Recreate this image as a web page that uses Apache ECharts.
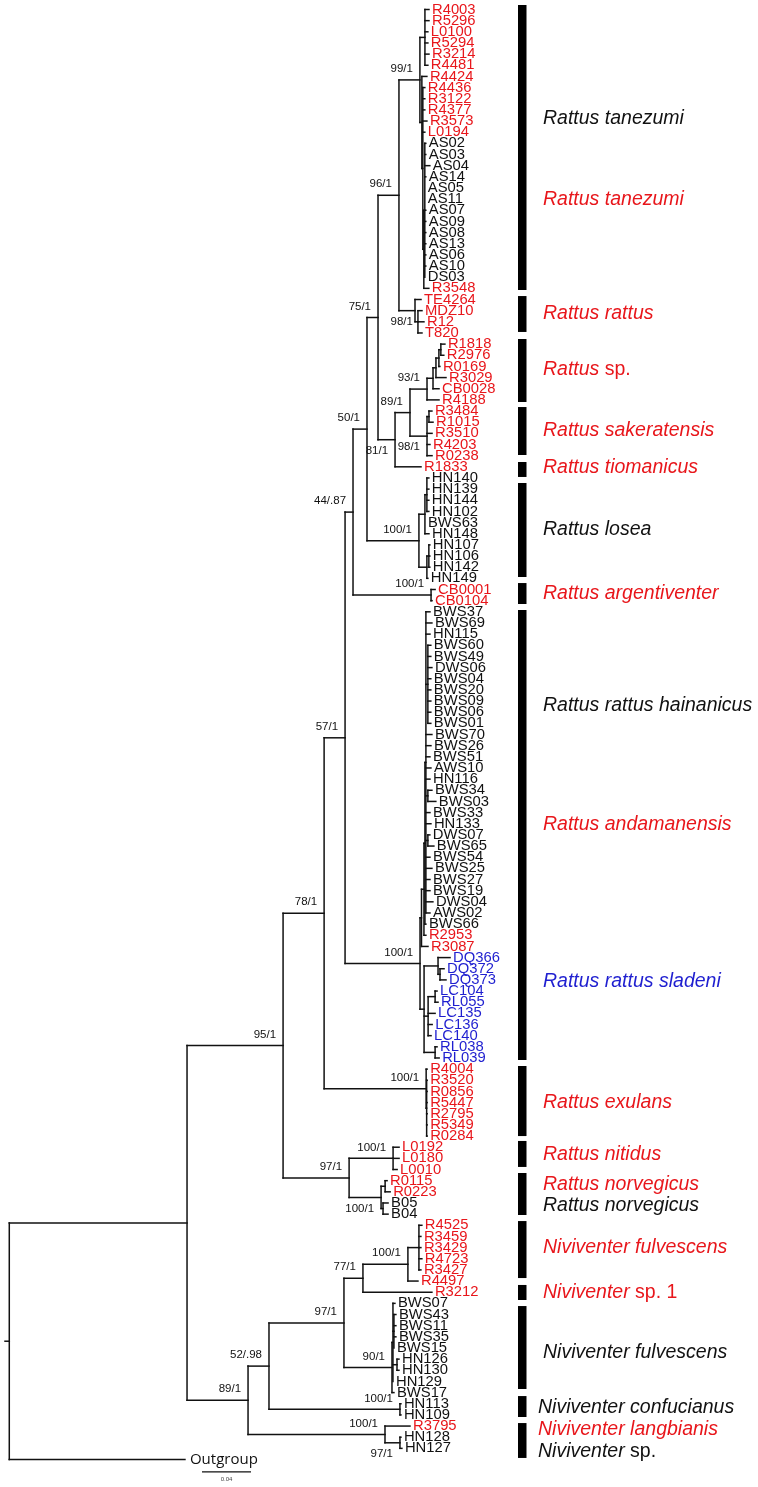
<!DOCTYPE html>
<html><head><meta charset="utf-8">
<script src="https://cdn.jsdelivr.net/npm/echarts@6/dist/echarts.min.js"></script>
<style>html,body{margin:0;padding:0;background:#fff}#chart{width:758px;height:1487px}</style>
</head><body><div id="chart"></div>
<script>
// ---------------- DATA ----------------
// Clades in Newick form, branch lengths in substitutions/site; internal labels = bootstrap/posterior
// (suffix ~b = label drawn below the branch, ~l = label drawn level with the node)
const tanezumiClade = "((R4003:0.0033,R5296:0.0033,L0100:0.0024,R5294:0.0024,R3214:0.0033,R4481:0.0024):0.0041,(R4424:0.0041,(R4436:0.0016,R3122:0.0016,R4377:0.0016,R3573:0.0033,L0194:0.0016,((AS02:0.0008,AS03:0.0008,AS04:0.0041,AS14:0.0008,AS05:0,AS11:0,AS07:0.0008,AS09:0.0008,AS08:0.0008,AS13:0.0008,AS06:0.0008,AS10:0.0008,DS03:0):0.0008,R3548:0.0041):0.0008):0.0008):0.0016)99/1";
const rattusClade = "(TE4264:0.0049,(MDZ10:0.0033,R12:0.0049,T820:0.0033)98/1~l:0.0024)";
const spClade = "(((((R1818:0.0033,R2976:0.0024):0.0016,R0169:0.0008):0.0024,R3029:0.0082):0.0024,CB0028:0.0049):0.0049,R4188:0.0098)93/1";
const sakeratensisClade = "((R3484:0.0024,R1015:0.0033):0.0016,R3510:0.0041,R4203:0.0024,R0238:0.0041)98/1~b";
const loseaClade = "(((HN140:0.0016,HN139:0.0016,HN144:0.0016,HN102:0.0016):0.0016,BWS63:0,HN148:0.0033):0.0049,((HN107:0.0008,HN106:0.0008,HN142:0.0008):0.0016,HN149:0.0008):0.0065)100/1";
const argentiventerClade = "(CB0001:0.0033,CB0104:0.0008)100/1";
const hainanicusClade = "((BWS37:0.0033,BWS69:0.0049,HN115:0.0033,(BWS60:0.0024,BWS49:0.0024,DWS06:0.0033,BWS04:0.0024,BWS20:0.0024,BWS09:0.0024,BWS06:0.0024,BWS01:0.0024):0.0016,BWS70:0.0049,BWS26:0.0041,BWS51:0.0033,AWS10:0.0041,HN116:0.0033,(BWS34:0.0033,BWS03:0.0065):0.0016,BWS33:0.0033,HN133:0.0041,(DWS07:0.0016,BWS65:0.0049):0.0016,BWS54:0.0033,BWS25:0.0049,BWS27:0.0033,BWS19:0.0033,DWS04:0.0057,AWS02:0.0033):0.0008,BWS66:0.0008)";
const andamanensisExtra = ["R2953:0.0016", "R3087:0.0053"];
const sladeniClade = "((DQ366:0.0098,(DQ372:0.0033,DQ373:0.0049):0.0016):0.0114,((LC104:0.0016,RL055:0.0024):0.0057,LC135:0.0057,LC136:0.0033,LC140:0.0024):0.0033,(RL038:0.0016,RL039:0.0033):0.0090)";
const exulansClade = "(R4004:0.0008,(R3520:0.0004,R0856:0.0004,R5447:0.0004,R2795:0.0004,R5349:0.0004,R0284:0.0004):0.0004)100/1";
const nitidusClade = "(L0192:0.0049,L0180:0.0049,L0010:0.0033)100/1";
const norvegicusClade = "((R0115:0.0016,R0223:0.0041):0.0033,(B05:0.0041,B04:0.0041):0.0016)100/1~b";
const nivRedClade = "(((R4525:0.0024,R3459:0.0016,R3429:0.0016,R4723:0.0024,R3427:0.0016):0.0090,R4497:0.0082)100/1:0.0367,R3212:0.0563)77/1";
const nivBlackClade = "((BWS07:0.0016,(BWS43:0.0016,BWS11:0.0016,BWS35:0.0016,BWS15:0):0.0008,(HN126:0.0016,HN130:0.0016):0.0033,HN129:0):0.0008,BWS17:0.0016)90/1";
const confucianusClade = "(HN113:0.0008,HN109:0.0008)100/1";
const langbianisClade = "(R3795:0.0204,(HN128:0.0008,HN127:0.0016)97/1~b:0.0122)100/1";

const redLeaves = ["R4003","R5296","L0100","R5294","R3214","R4481","R4424","R4436","R3122","R4377","R3573","L0194","R3548","TE4264","MDZ10","R12","T820","R1818","R2976","R0169","R3029","CB0028","R4188","R3484","R1015","R3510","R4203","R0238","R1833","CB0001","CB0104","R2953","R3087","R4004","R3520","R0856","R5447","R2795","R5349","R0284","L0192","L0180","L0010","R0115","R0223","R4525","R3459","R3429","R4723","R3427","R4497","R3212","R3795"];
const blueLeaves = ["DQ366","DQ372","DQ373","LC104","RL055","LC135","LC136","LC140","RL038","RL039"];

// clade bars (leaf-row extents) and clade names
const barStartRow = [-0.40, 25.69, 29.54, 35.64, 40.57, 42.45, 51.42, 53.84, 94.72, 101.44, 104.31, 108.62, 114.35, 116.24, 124.31, 126.73];
const barEndRow   = [25.15, 28.91, 35.19, 39.94, 41.91, 50.88, 53.30, 94.18, 101.0, 103.77, 108.08, 113.73, 115.70, 123.68, 126.19, 129.86];
const cladeNames  = ["Rattus tanezumi","Rattus tanezumi","Rattus rattus","Rattus","Rattus sakeratensis","Rattus tiomanicus","Rattus losea","Rattus argentiventer","Rattus rattus hainanicus","Rattus andamanensis","Rattus rattus sladeni","Rattus exulans","Rattus nitidus","Rattus norvegicus","Rattus norvegicus","Niviventer fulvescens","Niviventer","Niviventer fulvescens","Niviventer confucianus","Niviventer langbianis","Niviventer"];
const cladeSuffix = ["","","","sp.","","","","","","","","","","","","","sp. 1","","","","sp."];
const cladeColor  = ["k","r","r","r","r","r","k","r","k","r","b","r","r","r","k","r","r","k","k","r","k"];
const cladeRow    = [9.82,17.08,27.30,32.32,37.79,41.11,46.67,52.40,62.44,73.11,87.19,98.04,102.70,105.39,107.27,111.04,115.07,120.45,125.38,127.35,129.33];
const cladeIndent = [0,0,0,0,0,0,0,0,0,0,0,0,0,0,0,0,0,0,1,1,1];

const scaleBarLength = 0.04;
const scaleBarLabel = "0.04";

// ---------------- BUILD TREE ----------------
const andamanensisClade = "((" + hainanicusClade + ":0.0008," + andamanensisExtra[0] + "):0.0020," + andamanensisExtra[1] + ")";
const n96 = "(" + tanezumiClade + ":0.0171," + rattusClade + ":0.0131)96/1";
const n81 = "((" + spClade + ":0.0139," + sakeratensisClade + ":0.0139)89/1:0.0122,R1833:0.0212)81/1~b";
const n75 = "(" + n96 + ":0.0171," + n81 + ":0.0139)75/1";
const n50 = "(" + n75 + ":0.0090," + loseaClade + ":0.0424)50/1";
const n44 = "(" + n50 + ":0.0114," + argentiventerClade + ":0.0637)44/.87";
const nAS = "(" + andamanensisClade + ":0.0012," + sladeniClade + ":0.0033)100/1";
const n57 = "(" + n44 + ":0.0065," + nAS + ":0.0612)57/1";
const n78 = "(" + n57 + ":0.0171," + exulansClade + ":0.0833)78/1";
const nNN = "(" + nitidusClade + ":0.0359," + norvegicusClade + ":0.0261)97/1";
const n95 = "(" + n78 + ":0.0335," + nNN + ":0.0539)95/1";
const nN97 = "(" + nivRedClade + ":0.0155," + nivBlackClade + ":0.0392)97/1";
const nN52 = "(" + nN97 + ":0.0612," + confucianusClade + ":0.1069)52/.98";
const nN89 = "(" + nN52 + ":0.0171," + langbianisClade + ":0.1118)89/1";
const ingroup = "(" + n95 + ":0.0784," + nN89 + ":0.0498)";
const treeNewick = "(" + ingroup + ":0.1451,Outgroup:0.1434):0.0035;";

function parseNewick(s) {
  let i = 0;
  function node() {
    const n = { children: [], name: "", len: 0 };
    if (s[i] === "(") {
      i++;
      n.children.push(node());
      while (s[i] === ",") { i++; n.children.push(node()); }
      i++;
    }
    let name = "";
    while (i < s.length && ",():;".indexOf(s[i]) < 0) name += s[i++];
    n.name = name.trim();
    if (s[i] === ":") {
      i++; let num = "";
      while (i < s.length && ",();".indexOf(s[i]) < 0) num += s[i++];
      n.len = parseFloat(num);
    }
    return n;
  }
  return node();
}

const root = parseNewick(treeNewick);
const leaves = [], internals = [], segments = [];
let row = 0;
(function layout(n, px) {
  n.x = px + n.len;
  if (!n.children.length) { n.y = row++; leaves.push(n); }
  else {
    n.children.forEach(c => layout(c, n.x));
    n.y = (n.children[0].y + n.children[n.children.length - 1].y) / 2;
    internals.push(n);
  }
})(root, 0);
segments.push([0, root.y, root.x, root.y]);
(function addSeg(n) {
  if (!n.children.length) return;
  segments.push([n.x, n.children[0].y, n.x, n.children[n.children.length - 1].y]);
  n.children.forEach(c => { segments.push([n.x, c.y, c.x, c.y]); addSeg(c); });
})(root);

const RED = "#e8161b", BLUE = "#1f1fd0", BLACK = "#111111";
const colorOf = name => redLeaves.includes(name) ? RED : (blueLeaves.includes(name) ? BLUE : BLACK);
const cmap = { k: BLACK, r: RED, b: BLUE };

const leafData = leaves.map((l, i) => [l.x, l.y, i]);
const supportNodes = internals.filter(n => n.name);
const supportData = supportNodes.map((n, i) => [n.x, n.y, i]);
const barData = barStartRow.map((s, i) => [0, s, barEndRow[i]]);
const cladeData = cladeRow.map((r, i) => [0, r, i]);

const FONT = '"Liberation Sans", Arial, sans-serif';

const chart = echarts.init(document.getElementById("chart"), null, { renderer: "canvas" });
chart.setOption({
  animation: false,
  backgroundColor: "#ffffff",
  grid: { left: 5, top: 3.923, width: 735, height: 1472.33 },
  xAxis: { type: "value", min: 0, max: 0.6, show: false },
  yAxis: { type: "value", min: -0.5, max: 131.5, inverse: true, show: false },
  series: [
    {
      type: "custom", name: "branches", clip: false, silent: true,
      data: segments, encode: { x: [0, 2], y: [1, 3] },
      renderItem: (p, api) => {
        const a = api.coord([api.value(0), api.value(1)]);
        const b = api.coord([api.value(2), api.value(3)]);
        return { type: "line", shape: { x1: a[0], y1: a[1], x2: b[0], y2: b[1] },
          style: { stroke: BLACK, lineWidth: 1.5, lineCap: "square" } };
      }
    },
    {
      type: "custom", name: "leaves", clip: false, silent: true,
      data: leafData, encode: { x: 0, y: 1 },
      renderItem: (p, api) => {
        const c = api.coord([api.value(0), api.value(1)]);
        const l = leaves[api.value(2)];
        const og = l.name === "Outgroup";
        return { type: "text", x: c[0] + (og ? 5 : 3), y: c[1],
          style: { text: l.name, fill: colorOf(l.name),
            font: og ? '15px "Open Sans", sans-serif' : ("14.8px " + FONT),
            align: "left", verticalAlign: "middle" } };
      }
    },
    {
      type: "custom", name: "support", clip: false, silent: true,
      data: supportData, encode: { x: 0, y: 1 },
      renderItem: (p, api) => {
        const c = api.coord([api.value(0), api.value(1)]);
        const n = supportNodes[api.value(2)];
        const parts = n.name.split("~");
        let dx = -7, dy = -11;
        if (parts[1] === "b") dy = 11;
        if (parts[1] === "l") { dx = -5; dy = 0; }
        return { type: "text", x: c[0] + dx, y: c[1] + dy,
          style: { text: parts[0], fill: BLACK, font: "11.5px " + FONT, align: "right", verticalAlign: "middle" } };
      }
    },
    {
      type: "custom", name: "bars", clip: false, silent: true,
      data: barData, encode: { y: [1, 2] },
      renderItem: (p, api) => {
        const a = api.coord([0, api.value(1)]);
        const b = api.coord([0, api.value(2)]);
        return { type: "rect", shape: { x: 518, y: a[1], width: 8.5, height: b[1] - a[1] }, style: { fill: "#000" } };
      }
    },
    {
      type: "custom", name: "clades", clip: false, silent: true,
      data: cladeData, encode: { y: 1 },
      renderItem: (p, api) => {
        const i = api.value(2);
        const c = api.coord([0, api.value(1)]);
        const col = cmap[cladeColor[i]];
        const txt = "{i|" + cladeNames[i] + "}" + (cladeSuffix[i] ? "{n| " + cladeSuffix[i] + "}" : "");
        return { type: "text", x: cladeIndent[i] ? 538 : 543, y: c[1],
          style: { text: txt, align: "left", verticalAlign: "middle",
            rich: { i: { fontStyle: "italic", fontSize: 19.5, fontFamily: FONT, fill: col, color: col },
                    n: { fontSize: 19.5, fontFamily: FONT, fill: col, color: col } } } };
      }
    },
    {
      type: "custom", name: "scale", clip: false, silent: true,
      data: [[0.1608, 131.1]], encode: { x: 0, y: 1 },
      renderItem: (p, api) => {
        const a = api.coord([api.value(0), api.value(1)]);
        const b = api.coord([api.value(0) + scaleBarLength, api.value(1)]);
        return { type: "group", children: [
          { type: "line", shape: { x1: a[0], y1: a[1], x2: b[0], y2: b[1] }, style: { stroke: BLACK, lineWidth: 1.3 } },
          { type: "text", x: (a[0] + b[0]) / 2, y: a[1] + 8, style: { text: scaleBarLabel, fill: "#444", font: "6px " + FONT, align: "center", verticalAlign: "middle" } }
        ] };
      }
    }
  ]
});
</script></body></html>
